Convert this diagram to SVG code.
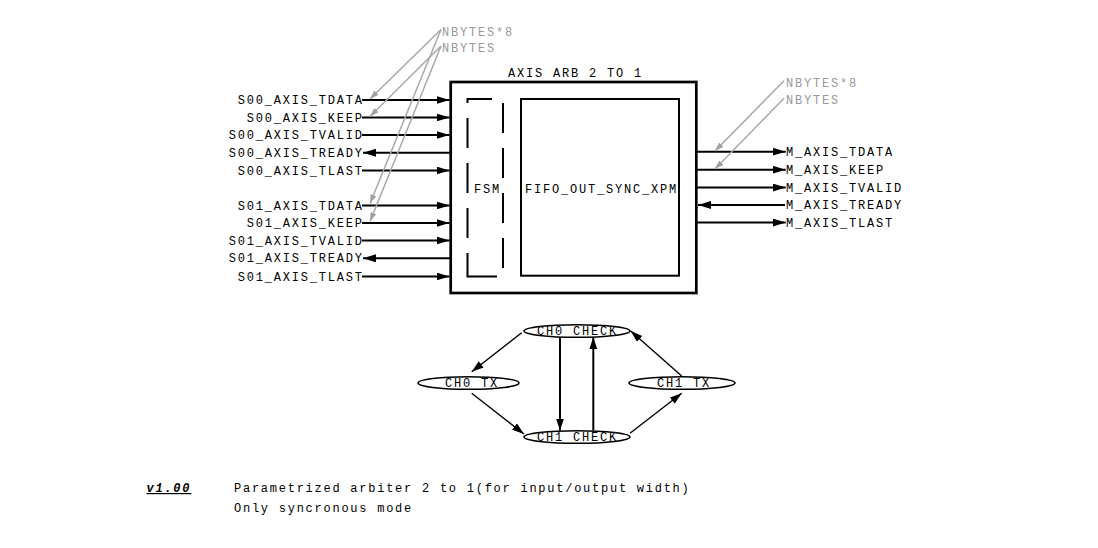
<svg xmlns="http://www.w3.org/2000/svg" width="1098" height="548" viewBox="0 0 1098 548">
<defs>
<marker id="ah" markerUnits="userSpaceOnUse" markerWidth="14" markerHeight="9" refX="13" refY="4" orient="auto"><path d="M0,0 L13,4 L0,8 z" fill="#000"/></marker>
<marker id="ahs" markerUnits="userSpaceOnUse" markerWidth="14" markerHeight="9" refX="12" refY="4" orient="auto"><path d="M0,0 L12,4 L0,8 z" fill="#000"/></marker>
<marker id="ag" markerUnits="userSpaceOnUse" markerWidth="10" markerHeight="7" refX="9" refY="3" orient="auto"><path d="M0,0 L9,3 L0,6 z" fill="#a0a0a0"/></marker>
</defs>
<style>
text{font-family:"Liberation Mono","Courier New",monospace;font-size:12px;letter-spacing:1.8px;fill:#000}
.g{fill:#999}
.ft{letter-spacing:1.75px}
.sig{stroke:#000;stroke-width:2;fill:none}
.ann{stroke:#a8a8a8;stroke-width:1.5;fill:none}
.edge{stroke:#000;stroke-width:1.4;fill:none}
.edgev{stroke:#000;stroke-width:2;fill:none}
.st{fill:#fff;stroke:#000;stroke-width:1.6}
</style>
<rect width="1098" height="548" fill="#fff"/>

<g id="block">
<rect x="450.7" y="82" width="245.6" height="211" fill="none" stroke="#000" stroke-width="2.7"/>
<text x="508" y="77">AXIS ARB 2 TO 1</text>
</g>
<g id="fsm">
<path d="M467.5,103 V99 H492 M467.5,118 V148 M467.5,163 V193 M467.5,208 V238 M467.5,253 V276.5 H497 M503,103 V133 M503,148 V178 M503,193 V223 M503,238 V268" fill="none" stroke="#000" stroke-width="2"/>
<text x="474" y="193">FSM</text>
</g>
<g id="fifo">
<rect x="521" y="99" width="158" height="176.7" fill="none" stroke="#000" stroke-width="2"/>
<text x="525" y="193">FIFO_OUT_SYNC_XPM</text>
</g>

<g id="connectors">
<path class="sig" d="M362,100 H449.5" marker-end="url(#ah)"/>
<path class="sig" d="M362,117.5 H449.5" marker-end="url(#ah)"/>
<path class="sig" d="M362,135 H449.5" marker-end="url(#ah)"/>
<path class="sig" d="M450,152.7 H363" marker-end="url(#ah)"/>
<path class="sig" d="M362,170.5 H449.5" marker-end="url(#ah)"/>
<path class="sig" d="M362,205.5 H449.5" marker-end="url(#ah)"/>
<path class="sig" d="M362,223 H449.5" marker-end="url(#ah)"/>
<path class="sig" d="M362,240.5 H449.5" marker-end="url(#ah)"/>
<path class="sig" d="M450,258.3 H363" marker-end="url(#ah)"/>
<path class="sig" d="M362,276.5 H449.5" marker-end="url(#ah)"/>

<path class="sig" d="M697,151.7 H785.7" marker-end="url(#ah)"/>
<path class="sig" d="M697,169.7 H785.7" marker-end="url(#ah)"/>
<path class="sig" d="M697,187.5 H785.7" marker-end="url(#ah)"/>
<path class="sig" d="M785,205 H698" marker-end="url(#ah)"/>
<path class="sig" d="M697,222.5 H785.7" marker-end="url(#ah)"/>

<path class="ann" d="M441,29.5 L370,99" marker-end="url(#ag)"/>
<path class="ann" d="M441,29.5 L370,203.5" marker-end="url(#ag)"/>
<path class="ann" d="M441,46 L370,116.5" marker-end="url(#ag)"/>
<path class="ann" d="M441,46 L370,221.5" marker-end="url(#ag)"/>
<path class="ann" d="M784,80.7 L715,151" marker-end="url(#ag)"/>
<path class="ann" d="M784,98.3 L715,169" marker-end="url(#ag)"/>

<path class="edge" d="M521.7,332.7 L471.7,371.7" marker-end="url(#ahs)"/>
<path class="edge" d="M471.7,393.3 L524,434" marker-end="url(#ahs)"/>
<path class="edgev" d="M560,337.5 V430.5" marker-end="url(#ahs)"/>
<path class="edgev" d="M593.3,430.5 V337.3" marker-end="url(#ahs)"/>
<path class="edge" d="M630,433.3 L681.7,393.3" marker-end="url(#ahs)"/>
<path class="edge" d="M681.7,376 L630.7,331" marker-end="url(#ahs)"/>
</g>

<g id="labels-in">
<text x="363.8" y="104" text-anchor="end">S00_AXIS_TDATA</text>
<text x="363.8" y="121.5" text-anchor="end">S00_AXIS_KEEP</text>
<text x="363.8" y="139" text-anchor="end">S00_AXIS_TVALID</text>
<text x="363.8" y="156.7" text-anchor="end">S00_AXIS_TREADY</text>
<text x="363.8" y="174.5" text-anchor="end">S00_AXIS_TLAST</text>
<text x="363.8" y="209.5" text-anchor="end">S01_AXIS_TDATA</text>
<text x="363.8" y="227" text-anchor="end">S01_AXIS_KEEP</text>
<text x="363.8" y="244.5" text-anchor="end">S01_AXIS_TVALID</text>
<text x="363.8" y="262.3" text-anchor="end">S01_AXIS_TREADY</text>
<text x="363.8" y="280.5" text-anchor="end">S01_AXIS_TLAST</text>
</g>
<g id="labels-out">
<text x="786" y="155.7">M_AXIS_TDATA</text>
<text x="786" y="173.7">M_AXIS_KEEP</text>
<text x="786" y="191.5">M_AXIS_TVALID</text>
<text x="786" y="209">M_AXIS_TREADY</text>
<text x="786" y="226.5">M_AXIS_TLAST</text>
</g>
<g id="annotations">
<text class="g" x="442" y="35.5">NBYTES*8</text>
<text class="g" x="442" y="51.5">NBYTES</text>
<text class="g" x="786" y="87">NBYTES*8</text>
<text class="g" x="786" y="104">NBYTES</text>
</g>

<g id="ch0_check">
<ellipse class="st" cx="577" cy="331" rx="53" ry="6.3"/>
<text x="537" y="335">CH0 CHECK</text>
</g>
<g id="ch0_tx">
<ellipse class="st" cx="468.5" cy="383" rx="50.5" ry="6.3"/>
<text x="445" y="387">CH0 TX</text>
</g>
<g id="ch1_tx">
<ellipse class="st" cx="682" cy="383" rx="53" ry="6.3"/>
<text x="657" y="387">CH1 TX</text>
</g>
<g id="ch1_check">
<ellipse class="st" cx="577" cy="437" rx="53" ry="6.3"/>
<text x="537" y="441">CH1 CHECK</text>
</g>

<g id="footer">
<text class="ft" x="146.5" y="492" font-weight="bold" font-style="italic" text-decoration="underline">v1.00</text>
<text class="ft" x="234" y="492">Parametrized arbiter 2 to 1(for input/output width)</text>
<text class="ft" x="234" y="511.5">Only syncronous mode</text>
</g>
</svg>
